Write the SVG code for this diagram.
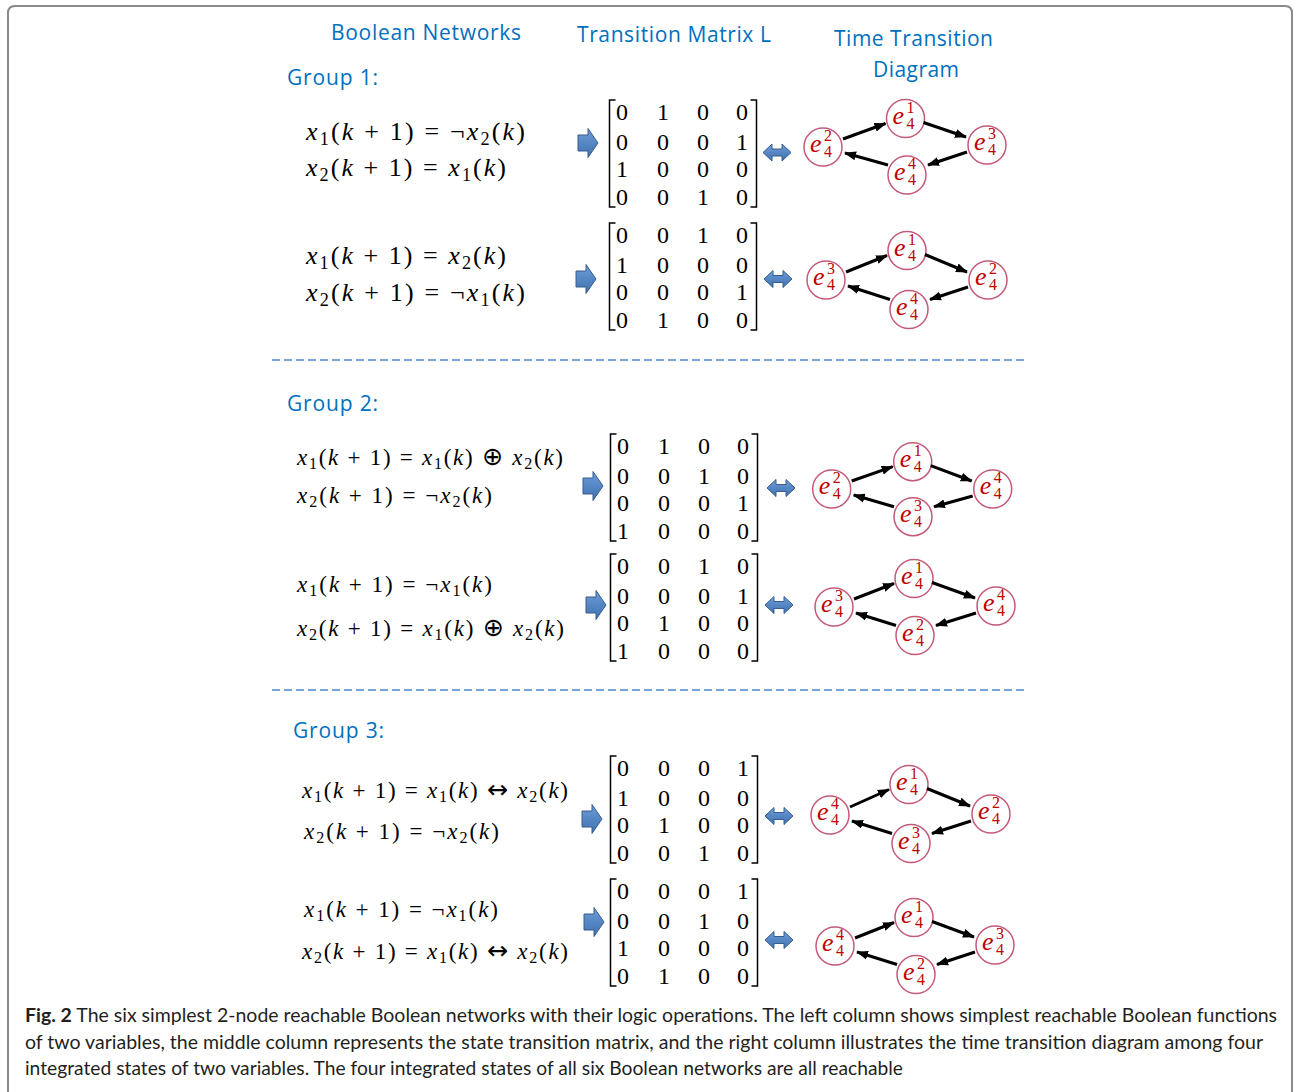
<svg xmlns="http://www.w3.org/2000/svg" xmlns:xlink="http://www.w3.org/1999/xlink" width="1294" height="1092" viewBox="0 0 1294 1092">
<style>
.hd{font-family:"Open Sans","Liberation Sans",sans-serif;font-size:21px;fill:#0070c0}
.eq{font-family:"Liberation Serif","DejaVu Serif",serif;font-size:26px;fill:#000}
.eq2{font-size:23px}
.v{font-style:italic}
.sb{font-size:0.7em}
.op{font-family:"DejaVu Sans",sans-serif;font-size:1.1em;font-weight:normal}
.mx{font-family:"Liberation Serif","DejaVu Serif",serif;font-size:24px;text-anchor:middle;fill:#000}
.br{fill:none;stroke:#000;stroke-width:1.5}
.node circle{fill:#fff;stroke:#c55a78;stroke-width:1.5}
.ne{font-family:"Liberation Serif","DejaVu Serif",serif;font-style:italic;font-size:26px;fill:#c00000}
.ns{font-family:"Liberation Serif","DejaVu Serif",serif;font-size:16px;fill:#c00000}
.ed{stroke:#000;stroke-width:3;fill:none;marker-end:url(#ah)}
.dl{stroke:#4a86d0;stroke-width:1.5;stroke-dasharray:8 4}
.cap{font-family:Lato,"Liberation Sans",sans-serif;font-size:19px;fill:#231f20}
</style>
<defs>
<linearGradient id="bg" x1="0" y1="0" x2="0" y2="1"><stop offset="0" stop-color="#6d9ed9"/><stop offset="1" stop-color="#3f70b0"/></linearGradient>
<marker id="ah" markerUnits="userSpaceOnUse" markerWidth="12" markerHeight="10" refX="11" refY="5" orient="auto"><path d="M0,0.5 L12,5 L0,9.5 z" fill="#000"/></marker>
<path id="ra" d="M0,-8 H10 V-14.5 L20,0 L10,14.5 V8 H0 Z" fill="url(#bg)" stroke="#385d8a" stroke-width="1"/>
<path id="da" d="M0,0 L9,-8.5 V-3.5 H19 V-8.5 L28,0 L19,8.5 V3.5 H9 V8.5 Z" fill="url(#bg)" stroke="#385d8a" stroke-width="1"/>
<g id="mxb"><path class="br" d="M615.5,0 H609.5 V107 H615.5"/><path class="br" d="M750.5,0 H756.5 V107 H750.5"/></g>
</defs>
<path d="M8,1092 V13 Q8,6 15,6 H1285 Q1292,6 1292,13 V1092" fill="none" stroke="#8a8a8a" stroke-width="2"/>

<g id="headers">
<text class="hd" x="331" y="40" textLength="190">Boolean Networks</text>
<text class="hd" x="577" y="42" textLength="194">Transition Matrix L</text>
<text class="hd" x="834" y="46" textLength="159">Time Transition</text>
<text class="hd" x="873" y="77" textLength="86">Diagram</text>
<text class="hd" x="287" y="85" textLength="91">Group 1:</text>
<text class="hd" x="287" y="411" textLength="91">Group 2:</text>
<text class="hd" x="293" y="738" textLength="91">Group 3:</text>
</g>

<g id="separators">
<line class="dl" x1="272" y1="360" x2="1025" y2="360"/>
<line class="dl" x1="272" y1="690" x2="1025" y2="690"/>
</g>

<g id="equations">
<g id="eq-a">
<text class="eq" x="306" y="140" textLength="219"><tspan class="v">x</tspan><tspan class="sb" dy="5">1</tspan><tspan dy="-5">(</tspan><tspan class="v">k</tspan> + 1) = ¬<tspan class="v">x</tspan><tspan class="sb" dy="5">2</tspan><tspan dy="-5">(</tspan><tspan class="v">k</tspan>)</text>
<text class="eq" x="306" y="176" textLength="200"><tspan class="v">x</tspan><tspan class="sb" dy="5">2</tspan><tspan dy="-5">(</tspan><tspan class="v">k</tspan> + 1) = <tspan class="v">x</tspan><tspan class="sb" dy="5">1</tspan><tspan dy="-5">(</tspan><tspan class="v">k</tspan>)</text>
</g>
<g id="eq-b">
<text class="eq" x="306" y="264" textLength="200"><tspan class="v">x</tspan><tspan class="sb" dy="5">1</tspan><tspan dy="-5">(</tspan><tspan class="v">k</tspan> + 1) = <tspan class="v">x</tspan><tspan class="sb" dy="5">2</tspan><tspan dy="-5">(</tspan><tspan class="v">k</tspan>)</text>
<text class="eq" x="306" y="301" textLength="219"><tspan class="v">x</tspan><tspan class="sb" dy="5">2</tspan><tspan dy="-5">(</tspan><tspan class="v">k</tspan> + 1) = ¬<tspan class="v">x</tspan><tspan class="sb" dy="5">1</tspan><tspan dy="-5">(</tspan><tspan class="v">k</tspan>)</text>
</g>
<g id="eq-c">
<text class="eq eq2" x="297" y="465" textLength="266"><tspan class="v">x</tspan><tspan class="sb" dy="4">1</tspan><tspan dy="-4">(</tspan><tspan class="v">k</tspan> + 1) = <tspan class="v">x</tspan><tspan class="sb" dy="4">1</tspan><tspan dy="-4">(</tspan><tspan class="v">k</tspan>) <tspan class="op">⊕</tspan> <tspan class="v">x</tspan><tspan class="sb" dy="4">2</tspan><tspan dy="-4">(</tspan><tspan class="v">k</tspan>)</text>
<text class="eq eq2" x="297" y="503" textLength="195"><tspan class="v">x</tspan><tspan class="sb" dy="4">2</tspan><tspan dy="-4">(</tspan><tspan class="v">k</tspan> + 1) = ¬<tspan class="v">x</tspan><tspan class="sb" dy="4">2</tspan><tspan dy="-4">(</tspan><tspan class="v">k</tspan>)</text>
</g>
<g id="eq-d">
<text class="eq eq2" x="297" y="592" textLength="195"><tspan class="v">x</tspan><tspan class="sb" dy="4">1</tspan><tspan dy="-4">(</tspan><tspan class="v">k</tspan> + 1) = ¬<tspan class="v">x</tspan><tspan class="sb" dy="4">1</tspan><tspan dy="-4">(</tspan><tspan class="v">k</tspan>)</text>
<text class="eq eq2" x="297" y="636" textLength="267"><tspan class="v">x</tspan><tspan class="sb" dy="4">2</tspan><tspan dy="-4">(</tspan><tspan class="v">k</tspan> + 1) = <tspan class="v">x</tspan><tspan class="sb" dy="4">1</tspan><tspan dy="-4">(</tspan><tspan class="v">k</tspan>) <tspan class="op">⊕</tspan> <tspan class="v">x</tspan><tspan class="sb" dy="4">2</tspan><tspan dy="-4">(</tspan><tspan class="v">k</tspan>)</text>
</g>
<g id="eq-e">
<text class="eq eq2" x="302" y="798" textLength="266"><tspan class="v">x</tspan><tspan class="sb" dy="4">1</tspan><tspan dy="-4">(</tspan><tspan class="v">k</tspan> + 1) = <tspan class="v">x</tspan><tspan class="sb" dy="4">1</tspan><tspan dy="-4">(</tspan><tspan class="v">k</tspan>) <tspan class="op">↔</tspan> <tspan class="v">x</tspan><tspan class="sb" dy="4">2</tspan><tspan dy="-4">(</tspan><tspan class="v">k</tspan>)</text>
<text class="eq eq2" x="304" y="839" textLength="195"><tspan class="v">x</tspan><tspan class="sb" dy="4">2</tspan><tspan dy="-4">(</tspan><tspan class="v">k</tspan> + 1) = ¬<tspan class="v">x</tspan><tspan class="sb" dy="4">2</tspan><tspan dy="-4">(</tspan><tspan class="v">k</tspan>)</text>
</g>
<g id="eq-f">
<text class="eq eq2" x="304" y="917" textLength="194"><tspan class="v">x</tspan><tspan class="sb" dy="4">1</tspan><tspan dy="-4">(</tspan><tspan class="v">k</tspan> + 1) = ¬<tspan class="v">x</tspan><tspan class="sb" dy="4">1</tspan><tspan dy="-4">(</tspan><tspan class="v">k</tspan>)</text>
<text class="eq eq2" x="302" y="959" textLength="266"><tspan class="v">x</tspan><tspan class="sb" dy="4">2</tspan><tspan dy="-4">(</tspan><tspan class="v">k</tspan> + 1) = <tspan class="v">x</tspan><tspan class="sb" dy="4">1</tspan><tspan dy="-4">(</tspan><tspan class="v">k</tspan>) <tspan class="op">↔</tspan> <tspan class="v">x</tspan><tspan class="sb" dy="4">2</tspan><tspan dy="-4">(</tspan><tspan class="v">k</tspan>)</text>
</g>
</g>

<g id="matrices">
<g id="mx-a" transform="translate(0,100)"><use xlink:href="#mxb"/>
<text class="mx" y="19.5"><tspan x="622">0</tspan><tspan x="663">1</tspan><tspan x="703">0</tspan><tspan x="742">0</tspan></text>
<text class="mx" y="50"><tspan x="622">0</tspan><tspan x="663">0</tspan><tspan x="703">0</tspan><tspan x="742">1</tspan></text>
<text class="mx" y="76.5"><tspan x="622">1</tspan><tspan x="663">0</tspan><tspan x="703">0</tspan><tspan x="742">0</tspan></text>
<text class="mx" y="104.5"><tspan x="622">0</tspan><tspan x="663">0</tspan><tspan x="703">1</tspan><tspan x="742">0</tspan></text>
</g>
<g id="mx-b" transform="translate(0,223)"><use xlink:href="#mxb"/>
<text class="mx" y="19.5"><tspan x="622">0</tspan><tspan x="663">0</tspan><tspan x="703">1</tspan><tspan x="742">0</tspan></text>
<text class="mx" y="50"><tspan x="622">1</tspan><tspan x="663">0</tspan><tspan x="703">0</tspan><tspan x="742">0</tspan></text>
<text class="mx" y="76.5"><tspan x="622">0</tspan><tspan x="663">0</tspan><tspan x="703">0</tspan><tspan x="742">1</tspan></text>
<text class="mx" y="104.5"><tspan x="622">0</tspan><tspan x="663">1</tspan><tspan x="703">0</tspan><tspan x="742">0</tspan></text>
</g>
<g id="mx-c" transform="translate(1,434)"><use xlink:href="#mxb"/>
<text class="mx" y="19.5"><tspan x="622">0</tspan><tspan x="663">1</tspan><tspan x="703">0</tspan><tspan x="742">0</tspan></text>
<text class="mx" y="50"><tspan x="622">0</tspan><tspan x="663">0</tspan><tspan x="703">1</tspan><tspan x="742">0</tspan></text>
<text class="mx" y="76.5"><tspan x="622">0</tspan><tspan x="663">0</tspan><tspan x="703">0</tspan><tspan x="742">1</tspan></text>
<text class="mx" y="104.5"><tspan x="622">1</tspan><tspan x="663">0</tspan><tspan x="703">0</tspan><tspan x="742">0</tspan></text>
</g>
<g id="mx-d" transform="translate(1,554)"><use xlink:href="#mxb"/>
<text class="mx" y="19.5"><tspan x="622">0</tspan><tspan x="663">0</tspan><tspan x="703">1</tspan><tspan x="742">0</tspan></text>
<text class="mx" y="50"><tspan x="622">0</tspan><tspan x="663">0</tspan><tspan x="703">0</tspan><tspan x="742">1</tspan></text>
<text class="mx" y="76.5"><tspan x="622">0</tspan><tspan x="663">1</tspan><tspan x="703">0</tspan><tspan x="742">0</tspan></text>
<text class="mx" y="104.5"><tspan x="622">1</tspan><tspan x="663">0</tspan><tspan x="703">0</tspan><tspan x="742">0</tspan></text>
</g>
<g id="mx-e" transform="translate(1,756)"><use xlink:href="#mxb"/>
<text class="mx" y="19.5"><tspan x="622">0</tspan><tspan x="663">0</tspan><tspan x="703">0</tspan><tspan x="742">1</tspan></text>
<text class="mx" y="50"><tspan x="622">1</tspan><tspan x="663">0</tspan><tspan x="703">0</tspan><tspan x="742">0</tspan></text>
<text class="mx" y="76.5"><tspan x="622">0</tspan><tspan x="663">1</tspan><tspan x="703">0</tspan><tspan x="742">0</tspan></text>
<text class="mx" y="104.5"><tspan x="622">0</tspan><tspan x="663">0</tspan><tspan x="703">1</tspan><tspan x="742">0</tspan></text>
</g>
<g id="mx-f" transform="translate(1,879)"><use xlink:href="#mxb"/>
<text class="mx" y="19.5"><tspan x="622">0</tspan><tspan x="663">0</tspan><tspan x="703">0</tspan><tspan x="742">1</tspan></text>
<text class="mx" y="50"><tspan x="622">0</tspan><tspan x="663">0</tspan><tspan x="703">1</tspan><tspan x="742">0</tspan></text>
<text class="mx" y="76.5"><tspan x="622">1</tspan><tspan x="663">0</tspan><tspan x="703">0</tspan><tspan x="742">0</tspan></text>
<text class="mx" y="104.5"><tspan x="622">0</tspan><tspan x="663">1</tspan><tspan x="703">0</tspan><tspan x="742">0</tspan></text>
</g>
</g>

<g id="nodes">
<g id="n-a-l" class="node" transform="translate(823,147)"><circle r="19"/><text class="ne" x="-13" y="5">e</text><text class="ns" x="1" y="-6">2</text><text class="ns" x="1" y="10">4</text></g>
<g id="n-a-t" class="node" transform="translate(905.5,118.5)"><circle r="19"/><text class="ne" x="-13" y="5">e</text><text class="ns" x="1" y="-6">1</text><text class="ns" x="1" y="10">4</text></g>
<g id="n-a-r" class="node" transform="translate(987,145)"><circle r="19"/><text class="ne" x="-13" y="5">e</text><text class="ns" x="1" y="-6">3</text><text class="ns" x="1" y="10">4</text></g>
<g id="n-a-b" class="node" transform="translate(907,175)"><circle r="19"/><text class="ne" x="-13" y="5">e</text><text class="ns" x="1" y="-6">4</text><text class="ns" x="1" y="10">4</text></g>

<g id="n-b-l" class="node" transform="translate(826,280)"><circle r="19"/><text class="ne" x="-13" y="5">e</text><text class="ns" x="1" y="-6">3</text><text class="ns" x="1" y="10">4</text></g>
<g id="n-b-t" class="node" transform="translate(907,250.5)"><circle r="19"/><text class="ne" x="-13" y="5">e</text><text class="ns" x="1" y="-6">1</text><text class="ns" x="1" y="10">4</text></g>
<g id="n-b-r" class="node" transform="translate(988,280)"><circle r="19"/><text class="ne" x="-13" y="5">e</text><text class="ns" x="1" y="-6">2</text><text class="ns" x="1" y="10">4</text></g>
<g id="n-b-b" class="node" transform="translate(909,309.5)"><circle r="19"/><text class="ne" x="-13" y="5">e</text><text class="ns" x="1" y="-6">4</text><text class="ns" x="1" y="10">4</text></g>

<g id="n-c-l" class="node" transform="translate(831.7,489)"><circle r="19"/><text class="ne" x="-13" y="5">e</text><text class="ns" x="1" y="-6">2</text><text class="ns" x="1" y="10">4</text></g>
<g id="n-c-t" class="node" transform="translate(912.7,461.7)"><circle r="19"/><text class="ne" x="-13" y="5">e</text><text class="ns" x="1" y="-6">1</text><text class="ns" x="1" y="10">4</text></g>
<g id="n-c-r" class="node" transform="translate(992.7,489)"><circle r="19"/><text class="ne" x="-13" y="5">e</text><text class="ns" x="1" y="-6">4</text><text class="ns" x="1" y="10">4</text></g>
<g id="n-c-b" class="node" transform="translate(913,516.7)"><circle r="19"/><text class="ne" x="-13" y="5">e</text><text class="ns" x="1" y="-6">3</text><text class="ns" x="1" y="10">4</text></g>

<g id="n-d-l" class="node" transform="translate(834,607)"><circle r="19"/><text class="ne" x="-13" y="5">e</text><text class="ns" x="1" y="-6">3</text><text class="ns" x="1" y="10">4</text></g>
<g id="n-d-t" class="node" transform="translate(914,578.5)"><circle r="19"/><text class="ne" x="-13" y="5">e</text><text class="ns" x="1" y="-6">1</text><text class="ns" x="1" y="10">4</text></g>
<g id="n-d-r" class="node" transform="translate(996,606)"><circle r="19"/><text class="ne" x="-13" y="5">e</text><text class="ns" x="1" y="-6">4</text><text class="ns" x="1" y="10">4</text></g>
<g id="n-d-b" class="node" transform="translate(915,635.5)"><circle r="19"/><text class="ne" x="-13" y="5">e</text><text class="ns" x="1" y="-6">2</text><text class="ns" x="1" y="10">4</text></g>

<g id="n-e-l" class="node" transform="translate(830,815)"><circle r="19"/><text class="ne" x="-13" y="5">e</text><text class="ns" x="1" y="-6">4</text><text class="ns" x="1" y="10">4</text></g>
<g id="n-e-t" class="node" transform="translate(909,784.5)"><circle r="19"/><text class="ne" x="-13" y="5">e</text><text class="ns" x="1" y="-6">1</text><text class="ns" x="1" y="10">4</text></g>
<g id="n-e-r" class="node" transform="translate(991,814)"><circle r="19"/><text class="ne" x="-13" y="5">e</text><text class="ns" x="1" y="-6">2</text><text class="ns" x="1" y="10">4</text></g>
<g id="n-e-b" class="node" transform="translate(911,843.5)"><circle r="19"/><text class="ne" x="-13" y="5">e</text><text class="ns" x="1" y="-6">3</text><text class="ns" x="1" y="10">4</text></g>

<g id="n-f-l" class="node" transform="translate(835,946)"><circle r="19"/><text class="ne" x="-13" y="5">e</text><text class="ns" x="1" y="-6">4</text><text class="ns" x="1" y="10">4</text></g>
<g id="n-f-t" class="node" transform="translate(914,917.5)"><circle r="19"/><text class="ne" x="-13" y="5">e</text><text class="ns" x="1" y="-6">1</text><text class="ns" x="1" y="10">4</text></g>
<g id="n-f-r" class="node" transform="translate(995,945)"><circle r="19"/><text class="ne" x="-13" y="5">e</text><text class="ns" x="1" y="-6">3</text><text class="ns" x="1" y="10">4</text></g>
<g id="n-f-b" class="node" transform="translate(916,974.5)"><circle r="19"/><text class="ne" x="-13" y="5">e</text><text class="ns" x="1" y="-6">2</text><text class="ns" x="1" y="10">4</text></g>
</g>

<g id="connectors">
<use xlink:href="#ra" x="578" y="143"/><use xlink:href="#da" x="763" y="152.5"/>
<use xlink:href="#ra" x="576" y="279"/><use xlink:href="#da" x="764" y="279"/>
<use xlink:href="#ra" x="583" y="486"/><use xlink:href="#da" x="767" y="488"/>
<use xlink:href="#ra" x="586" y="605"/><use xlink:href="#da" x="765" y="605"/>
<use xlink:href="#ra" x="582" y="819"/><use xlink:href="#da" x="765" y="816"/>
<use xlink:href="#ra" x="584" y="922"/><use xlink:href="#da" x="765" y="940"/>

<line class="ed" x1="843" y1="139" x2="885.5" y2="123.5"/>
<line class="ed" x1="923.5" y1="122.5" x2="966" y2="137"/>
<line class="ed" x1="967" y1="152" x2="928" y2="165"/>
<line class="ed" x1="888" y1="165" x2="845" y2="153"/>

<line class="ed" x1="846" y1="272" x2="887" y2="255.5"/>
<line class="ed" x1="925" y1="254.5" x2="967" y2="272"/>
<line class="ed" x1="968" y1="287" x2="930" y2="299.5"/>
<line class="ed" x1="890" y1="299.5" x2="848" y2="286"/>

<line class="ed" x1="851.7" y1="481" x2="892.7" y2="466.7"/>
<line class="ed" x1="930.7" y1="465.7" x2="971.7" y2="481"/>
<line class="ed" x1="972.7" y1="496" x2="934" y2="506.7"/>
<line class="ed" x1="894" y1="506.7" x2="853.7" y2="495"/>

<line class="ed" x1="854" y1="599" x2="894" y2="583.5"/>
<line class="ed" x1="932" y1="582.5" x2="975" y2="598"/>
<line class="ed" x1="976" y1="613" x2="936" y2="625.5"/>
<line class="ed" x1="896" y1="625.5" x2="856" y2="613"/>

<line class="ed" x1="850" y1="807" x2="889" y2="789.5"/>
<line class="ed" x1="927" y1="788.5" x2="970" y2="806"/>
<line class="ed" x1="971" y1="821" x2="932" y2="833.5"/>
<line class="ed" x1="892" y1="833.5" x2="852" y2="821"/>

<line class="ed" x1="855" y1="938" x2="894" y2="922.5"/>
<line class="ed" x1="932" y1="921.5" x2="974" y2="937"/>
<line class="ed" x1="975" y1="952" x2="937" y2="964.5"/>
<line class="ed" x1="897" y1="964.5" x2="857" y2="952"/>
</g>

<g id="caption">
<text class="cap" x="25" y="1022" textLength="1252" lengthAdjust="spacingAndGlyphs"><tspan font-weight="bold">Fig. 2</tspan> The six simplest 2-node reachable Boolean networks with their logic operations. The left column shows simplest reachable Boolean functions</text>
<text class="cap" x="25" y="1049" textLength="1238" lengthAdjust="spacingAndGlyphs">of two variables, the middle column represents the state transition matrix, and the right column illustrates the time transition diagram among four</text>
<text class="cap" x="25" y="1075" textLength="878" lengthAdjust="spacingAndGlyphs">integrated states of two variables. The four integrated states of all six Boolean networks are all reachable</text>
</g>
</svg>
